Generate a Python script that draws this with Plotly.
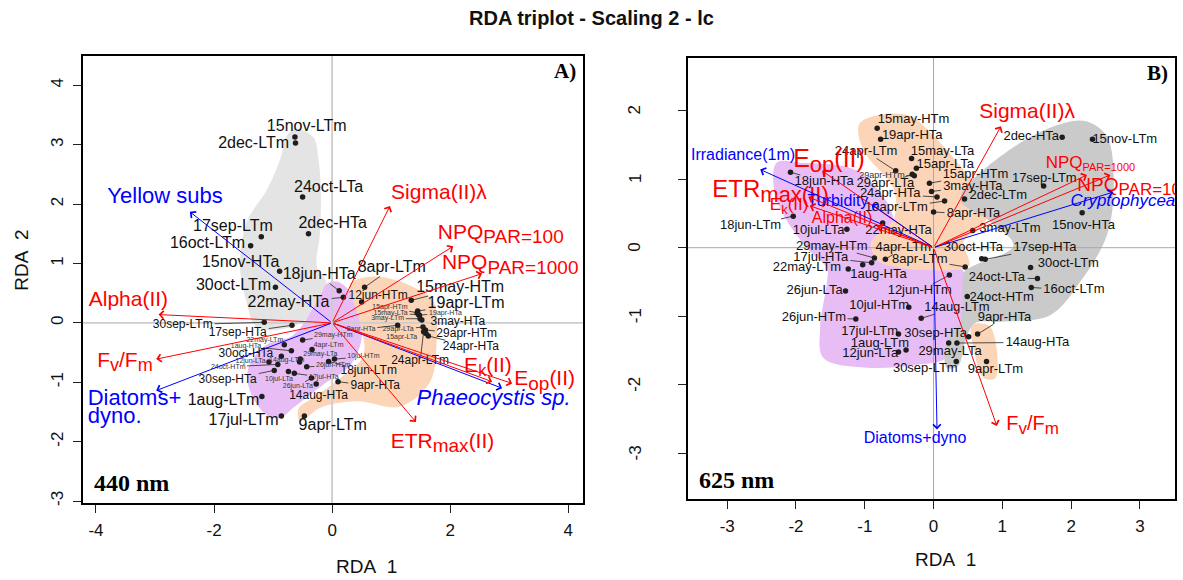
import math
import plotly.graph_objects as go

# ---------------------------------------------------------------
# Panel A (440 nm): site scores on RDA1 / RDA2 and label positions
# ---------------------------------------------------------------
a_site = ["15nov-LTm", "2dec-LTm", "24oct-LTa", "2dec-HTa", "17sep-LTm", "16oct-LTm", "15nov-HTa", "30oct-LTm",
          "18jun-HTa", "22may-HTa", "8apr-LTm", "12jun-HTm", "15may-HTm", "19apr-LTm", "19apr-HTa", "3may-HTa",
          "29apr-HTm", "24apr-HTa", "24apr-LTm", "15apr-HTm", "15may-LTa", "3may-LTm", "29apr-LTa", "15apr-LTa",
          "8apr-HTa", "30sep-LTm", "17sep-HTa", "1aug-LTm", "17jul-LTm", "9apr-LTm", "9apr-HTa", "14aug-HTa",
          "18jun-LTm", "30oct-HTa", "30sep-HTa", "22may-LTm", "1aug-HTa", "29may-HTm", "4apr-LTm", "29may-LTa",
          "26jun-HTm", "10jul-HTm", "24oct-HTm", "14aug-LTm", "10jul-LTa", "17jul-HTa", "12jun-LTa", "26jun-LTa"]
a_rda1 = [-0.63, -0.62, -0.50, -0.40, -1.20, -1.38, -0.89, -0.96,
          0.12, 0.19, 0.55, 0.50, 1.34, 1.45, 1.48, 1.52,
          1.58, 1.63, 1.55, 1.44, 1.46, 1.49, 1.54, 1.59,
          1.11, -1.15, -0.68, -1.19, -0.86, -0.47, 0.10, -0.27,
          -0.06, -0.86, -0.98, -0.81, -0.69, -0.50, -0.34, -0.54,
          -0.43, 0.04, -0.92, -0.55, -0.74, -0.64, -1.07, -0.35]
a_rda2 = [3.13, 3.03, 2.12, 1.50, 1.45, 1.30, 0.87, 0.60,
          0.54, 0.43, 0.60, 0.35, 0.38, 0.20, 0.13, 0.05,
          -0.12, -0.22, -0.15, 0.17, 0.14, 0.07, -0.07, -0.18,
          -0.04, 0.01, -0.04, -1.24, -1.57, -1.57, -0.99, -1.03,
          -0.65, -0.56, -0.80, -0.37, -0.47, -0.29, -0.45, -0.61,
          -0.74, -0.61, -0.70, -0.66, -0.82, -0.85, -0.66, -0.93]
a_lab1 = [-0.43, -1.33, -0.06, 0.01, -1.68, -2.11, -1.55, -1.67,
          -0.22, -0.74, 1.01, 0.78, 2.17, 2.27, 1.92, 2.13,
          2.28, 2.35, 1.49, 0.98, 0.99, 0.94, 1.12, 1.18,
          0.49, -2.53, -1.60, -1.84, -1.50, 0.01, 0.73, -0.23,
          0.62, -1.46, -1.77, -1.14, -1.46, 0.02, -0.06, -0.20,
          0.02, 0.53, -1.76, -0.77, -0.90, -0.14, -1.38, -0.58]
a_lab2 = [3.30, 3.01, 2.28, 1.67, 1.62, 1.33, 1.01, 0.62,
          0.80, 0.34, 0.92, 0.46, 0.59, 0.32, 0.17, 0.01,
          -0.18, -0.40, -0.65, 0.26, 0.16, 0.07, -0.11, -0.24,
          -0.11, -0.03, -0.17, -1.31, -1.65, -1.73, -1.07, -1.23,
          -0.81, -0.53, -0.96, -0.29, -0.39, -0.21, -0.37, -0.53,
          -0.72, -0.57, -0.74, -0.63, -0.95, -0.92, -0.64, -1.06]
# label size class per site (L large, M medium, S small)
a_labcls = "LLLLLLLLLLL" + "M" + "LL" + "S" + "MMMM" + "SSSSSS" + "MM" + "LLL" + "MMMMM" + "S" * 13

# biplot arrows (panel A)
a_var = ["Yellow subs", "Sigma(II)λ", "NPQ PAR=100", "NPQ PAR=1000", "Alpha(II)", "Fv/Fm",
         "Diatoms+ dyno.", "Phaeocystis sp.", "Ek(II)", "Eop(II)", "ETRmax(II)"]
a_var_kind = ["expl", "resp", "resp", "resp", "resp", "resp", "expl", "expl", "resp", "resp", "resp"]
a_arr1 = [-2.41, 0.98, 2.05, 2.54, -2.94, -2.98, -2.98, 2.88, 2.71, 3.05, 1.42]
a_arr2 = [1.87, 1.97, 1.29, 0.83, 0.14, -0.61, -1.14, -1.10, -0.99, -1.02, -1.67]
a_vlab1 = [-2.83, 1.81, 1.79, 1.86, -3.45, -3.51, -4.14, 1.43, 2.64, 3.60, 1.87]
a_vlab2 = [2.11, 2.17, 1.50, 0.99, 0.37, -0.65, -1.44, -1.29, -0.74, -0.96, -2.02]

# group hulls (panel A)
a_grey_x = [-0.63, -0.32, -0.23, -0.19, -0.21, -0.26, -0.09, -0.40, -0.77, -1.28, -1.45, -1.56, -1.45, -1.10, -0.88, -0.77]
a_grey_y = [3.27, 3.13, 2.75, 2.14, 1.47, 0.97, 0.63, 0.10, -0.09, -0.07, 0.35, 0.97, 1.69, 2.25, 2.75, 3.14]
a_purple_x = [0.11, 0.42, 0.50, 0.31, -0.15, -0.66, -0.88, -1.11, -1.39, -1.42, -1.11, -0.66, -0.20, -0.09]
a_purple_y = [0.69, 0.35, -0.26, -0.71, -1.04, -1.43, -1.60, -1.55, -1.15, -0.76, -0.37, -0.21, 0.46, 0.66]
a_orange_x = [0.31, 0.70, 1.32, 1.72, 1.77, 1.66, 1.15, 0.42, -0.20, -0.54, -0.57, -0.30, 0.14, 0.53, 0.47, 0.35]
a_orange_y = [0.66, 0.78, 0.63, 0.35, -0.32, -0.99, -1.41, -1.32, -1.43, -1.66, -1.45, -1.25, -0.93, -0.55, 0.02, 0.40]

# ---------------------------------------------------------------
# Panel B (625 nm)
# ---------------------------------------------------------------
b_site = ["15may-HTm", "19apr-HTa", "24apr-LTm", "15may-LTa", "15apr-LTa", "29apr-HTm", "29apr-LTa", "15apr-HTm",
          "3may-HTa", "24apr-HTa", "19apr-LTm", "8apr-HTa", "2dec-LTm", "3may-LTm", "2dec-HTa", "15nov-LTm",
          "17sep-LTm", "15nov-HTa", "30oct-HTa", "17sep-HTa", "30oct-LTm", "24oct-LTa", "16oct-LTm", "24oct-HTm",
          "9apr-HTa", "14aug-HTa", "29may-LTa", "30sep-HTa", "9apr-LTm", "30sep-LTm", "12jun-LTa", "1aug-LTm",
          "17jul-LTm", "14aug-LTm", "10jul-HTm", "26jun-HTm", "26jun-LTa", "12jun-HTm", "8apr-LTm", "4apr-LTm",
          "29may-HTm", "17jul-HTa", "1aug-HTa", "22may-LTm", "10jul-LTa", "22may-HTa", "18jun-LTm", "18jun-HTa"]
b_rda1 = [-0.82, -0.77, -0.55, -0.32, -0.25, -0.28, -0.31, -0.06,
          -0.03, 0.05, 0.16, 0.00, 0.45, 0.57, 1.87, 2.31,
          1.60, 2.16, 0.70, 0.75, 1.41, 1.51, 1.42, 0.49,
          0.64, 0.34, 0.22, 0.51, 0.77, 0.33, -0.51, -0.40,
          -0.51, -0.18, -0.36, -1.13, -1.28, 0.23, 0.46, -0.70,
          -0.86, -0.90, -1.03, -1.24, -1.26, -0.74, -2.04, -2.08]
b_rda2 = [1.74, 1.58, 1.12, 1.30, 1.16, 1.05, 1.07, 0.94,
          0.82, 0.74, 0.68, 0.52, 0.71, 0.25, 1.61, 1.58,
          0.90, 0.51, -0.16, -0.17, -0.29, -0.45, -0.58, -0.71,
          -1.26, -1.39, -1.39, -1.30, -1.66, -1.66, -1.52, -1.49,
          -1.26, -1.03, -0.87, -1.04, -0.63, -0.40, -0.28, -0.17,
          -0.15, -0.22, -0.25, -0.31, 0.27, 0.36, 0.46, 1.10]
b_lab1 = [-0.29, -0.31, -0.98, 0.13, 0.17, -0.75, -0.70, 0.61,
          0.57, -0.63, -0.54, 0.58, 0.94, 1.11, 1.42, 2.78,
          1.61, 2.18, 0.58, 1.62, 1.96, 0.92, 2.04, 0.99,
          1.03, 1.51, 0.24, 0.03, 0.90, -0.12, -0.92, -0.78,
          -0.93, 0.34, -0.79, -1.74, -1.73, -0.20, -0.20, -0.44,
          -1.48, -1.64, -0.80, -1.84, -1.67, -0.51, -2.66, -1.59]
b_lab2 = [1.86, 1.63, 1.40, 1.40, 1.21, 1.05, 0.93, 1.06,
          0.89, 0.78, 0.58, 0.49, 0.75, 0.28, 1.61, 1.58,
          1.01, 0.32, 0.00, 0.00, -0.23, -0.44, -0.62, -0.73,
          -1.02, -1.38, -1.52, -1.26, -1.78, -1.76, -1.54, -1.40,
          -1.23, -0.87, -0.84, -1.02, -0.63, -0.63, -0.17, 0.00,
          0.02, -0.14, -0.40, -0.30, 0.24, 0.24, 0.32, 0.96]
b_labcls = "MMMMM" + "S" + "M" * 42

b_var = ["Sigma(II)λ", "NPQ PAR=1000", "NPQ PAR=100", "Cryptophyceae", "Irradiance(1m)", "Eop(II)",
         "ETRmax(II)", "Ek(II)", "Turbidity", "Alpha(II)", "Diatoms+dyno", "Fv/Fm"]
b_var_kind = ["resp", "resp", "resp", "expl", "expl", "resp", "resp", "resp", "expl", "resp", "expl", "resp"]
b_arr1 = [0.98, 2.23, 2.57, 2.61, -2.52, -1.62, -1.82, -1.80, -0.90, -0.82, 0.05, 0.92]
b_arr2 = [1.77, 1.06, 1.06, 0.81, 1.14, 1.12, 0.74, 0.61, 0.63, 0.32, -2.65, -2.60]
b_vlab1 = [1.36, 1.63, 2.09, 1.99, -2.77, -1.52, -2.37, -2.10, -1.39, -1.33, -0.27, 1.44]
b_vlab2 = [1.97, 1.23, 0.90, 0.67, 1.33, 1.27, 0.83, 0.61, 0.67, 0.42, -2.79, -2.58]

b_purple_x = [-2.28, -1.94, -1.07, -0.58, -0.90, -0.77, 0.39, 0.48, 0.48, 0.20, -0.29, -0.97, -1.60, -1.65, -1.55, -1.55, -1.84, -2.23, -2.33]
b_purple_y = [1.24, 1.24, 1.10, 0.37, 0.08, -0.21, -0.30, -0.50, -1.08, -1.60, -1.71, -1.75, -1.61, -1.17, -0.50, -0.30, -0.01, 0.57, 0.95]
b_orange_x = [-1.07, -0.77, -0.34, 0.00, 0.39, 0.80, 0.70, 0.44, 0.52, 0.34, -0.77, -0.90, -0.58, -0.58, -0.97, -1.09]
b_orange_y = [1.82, 1.94, 1.92, 1.63, 1.19, 0.60, 0.30, 0.10, -0.26, -0.32, -0.21, 0.08, 0.42, 0.86, 1.34, 1.63]
b_grey_x = [0.39, 1.11, 1.84, 2.23, 2.52, 2.62, 2.52, 2.13, 1.70, 0.97, 0.60, 0.45, 0.36, 0.19, 0.19, 0.40, 0.42, 0.45, 1.16, 0.80]
b_grey_y = [0.71, 1.43, 1.80, 1.84, 1.62, 0.95, 0.18, -0.50, -0.98, -1.08, -1.10, -1.40, -1.72, -1.75, -1.37, -1.05, -0.55, -0.35, 0.03, 0.40]
b_orange2_x = [0.56, 0.82, 0.90, 0.73, 0.58]
b_orange2_y = [-1.13, -1.15, -1.90, -1.90, -1.46]

a_ticks_x = [-4, -2, 0, 2, 4]
a_ticks_y = [-3, -2, -1, 0, 1, 2, 3, 4]
b_ticks_x = [-3, -2, -1, 0, 1, 2, 3]
b_ticks_y = [-3, -2, -1, 0, 1, 2]

# ---------------------------------------------------------------
FONT = "Liberation Sans, Arial, sans-serif"
SERIF = "Liberation Serif, Times New Roman, serif"
W, H = 1183, 580
RED, BLUE = "#ff0000", "#0000ff"
GREY_A, GREY_B, PURPLE, ORANGE = "#e4e4e4", "#cacaca", "#e8bdf6", "#fcd5b8"
TICK_FONT = dict(family=FONT, size=17, color="#111")

PANELS = {
    "A": dict(xpx=(83, 583), ypx=(56, 506), xr=(-4.22, 4.25), yr=(-3.04, 4.50), xa="x", ya="y"),
    "B": dict(xpx=(688, 1175), ypx=(58, 502), xr=(-3.57, 3.51), yr=(-3.67, 2.77), xa="x2", ya="y2"),
}
LAB_SIZE = {"A": {"L": 16, "M": 12, "S": 7}, "B": {"M": 13, "S": 9}}
LAB_COLOR = {"L": "#111111", "M": "#111111", "S": "#333333"}

CHAR_W = {c: 0.556 for c in "0123456789abdeghnopqu"}
CHAR_W.update({"-": 0.333, "c": 0.5, "s": 0.5, "v": 0.5, "y": 0.5, "k": 0.5, "i": 0.222, "j": 0.222,
               "l": 0.222, "m": 0.833, "r": 0.333, "t": 0.278, "f": 0.278, "H": 0.722, "L": 0.556, "T": 0.611})


def scale(key):
    p = PANELS[key]
    sx = (p["xpx"][1] - p["xpx"][0]) / (p["xr"][1] - p["xr"][0])
    sy = (p["ypx"][1] - p["ypx"][0]) / (p["yr"][1] - p["yr"][0])
    return sx, sy


def text_width(s, size):
    return size * sum(CHAR_W.get(c, 0.6) for c in s)


def leader_segments(key, xs, ys, lxs, lys, texts, sizes):
    """Connector lines from each point to the edge of its displaced label."""
    sx, sy = scale(key)
    ox, oy = [], []
    for x, y, lx, ly, t, s in zip(xs, ys, lxs, lys, texts, sizes):
        hw = text_width(t, s) / 2 + 1.5
        hh = s * 0.45 + 1
        dx, dy = (x - lx) * sx, (y - ly) * sy
        if abs(dx) <= hw and abs(dy) <= hh:
            continue
        k = min(hw / abs(dx) if dx else 1e9, hh / abs(dy) if dy else 1e9)
        ex, ey = dx * k, dy * k
        if math.hypot(dx - ex, dy - ey) < 7:
            continue
        ox += [lx + ex / sx, x, None]
        oy += [ly + ey / sy, y, None]
    return ox, oy


def sub(txt, size):
    return f'<sub><span style="font-size:{size}px">{txt}</span></sub>'


def var_markup(name, size, key):
    """Return the label as a list of text lines with sub/italic markup."""
    small = size * (0.62 if key == "B" else 0.9)
    if name.startswith("NPQ"):
        s = size * 0.9 if name.endswith("100") else small
        return ["NPQ" + sub(name.split(" ")[1], round(s))]
    if name == "Fv/Fm":
        return ["F" + sub("v", round(size * 0.85)) + "/F" + sub("m", round(size * 0.85))]
    if name == "Ek(II)":
        return ["E" + sub("k", round(size * 0.75)) + "(II)"]
    if name == "Eop(II)":
        return ["E" + sub("op", round(size * 0.9)) + "(II)"]
    if name == "ETRmax(II)":
        if key == "B":
            return ["ETR" + sub("max(II)", round(size * 0.9))]
        return ["ETR" + sub("max", round(size * 0.9)) + "(II)"]
    if name == "Diatoms+ dyno.":
        return ["Diatoms+", "dyno."]
    if name in ("Phaeocystis sp.", "Cryptophyceae"):
        return ["<i>" + name + "</i>"]
    return [name]


VAR_SIZE = {
    "A": {"Yellow subs": 22, "Phaeocystis sp.": 22, "Diatoms+ dyno.": 22},
    "B": {"Sigma(II)λ": 21, "NPQ PAR=1000": 17, "NPQ PAR=100": 19, "Cryptophyceae": 17,
          "Irradiance(1m)": 16, "Eop(II)": 25, "ETRmax(II)": 24, "Ek(II)": 17, "Turbidity": 16,
          "Alpha(II)": 16, "Diatoms+dyno": 16, "Fv/Fm": 20},
}
LEFT_ANCHORED = {"NPQ PAR=100", "NPQ PAR=1000", "Diatoms+ dyno.", "Phaeocystis sp.", "Cryptophyceae"}
LINE_GAP = 0.82  # line spacing (in em) for stacked labels

fig = go.Figure()
annotations = []


def hull(key, xs, ys, color):
    p = PANELS[key]
    fig.add_trace(go.Scatter(x=xs + xs[:1], y=ys + ys[:1], mode="lines", fill="toself", fillcolor=color,
                             line=dict(width=0, color=color, shape="spline", smoothing=1.0),
                             xaxis=p["xa"], yaxis=p["ya"], hoverinfo="skip", showlegend=False))


def panel(key, sites, r1, r2, l1, l2, cls, var, kind, v1, v2, vl1, vl2, zero_color, zero_w):
    p = PANELS[key]
    xa, ya = p["xa"], p["ya"]
    sx, sy = scale(key)
    # zero reference lines
    fig.add_trace(go.Scatter(x=list(p["xr"]), y=[0, 0], mode="lines", line=dict(color=zero_color, width=zero_w),
                             xaxis=xa, yaxis=ya, hoverinfo="skip", showlegend=False))
    fig.add_trace(go.Scatter(x=[0, 0], y=list(p["yr"]), mode="lines", line=dict(color=zero_color, width=zero_w),
                             xaxis=xa, yaxis=ya, hoverinfo="skip", showlegend=False))
    sizes = [LAB_SIZE[key][c] for c in cls]
    lx, ly = leader_segments(key, r1, r2, l1, l2, sites, sizes)
    fig.add_trace(go.Scatter(x=lx, y=ly, mode="lines", line=dict(color="#3a3a3a", width=0.9),
                             xaxis=xa, yaxis=ya, hoverinfo="skip", showlegend=False))
    fig.add_trace(go.Scatter(x=r1, y=r2, mode="markers", marker=dict(size=5.5, color="#1e1e1e"),
                             xaxis=xa, yaxis=ya, hoverinfo="skip", showlegend=False))
    fig.add_trace(go.Scatter(x=l1, y=l2, mode="text", text=sites,
                             textfont=dict(family=FONT, size=sizes, color=[LAB_COLOR[c] for c in cls]),
                             xaxis=xa, yaxis=ya, hoverinfo="skip", showlegend=False))
    # biplot arrows
    for name, k, x, y in zip(var, kind, v1, v2):
        annotations.append(dict(x=x, y=y, ax=0, ay=0, xref=xa, yref=ya, axref=xa, ayref=ya, text="",
                                showarrow=True, arrowhead=4, arrowsize=1.5, arrowwidth=1, standoff=0,
                                arrowcolor=RED if k == "resp" else BLUE))
    # arrow labels (stacked lines placed individually for tight spacing)
    tx, ty, tt, ts, tc, tp = [], [], [], [], [], []
    for name, k, x, y in zip(var, kind, vl1, vl2):
        size = VAR_SIZE[key].get(name, 21)
        lines = var_markup(name, size, key)
        n = len(lines)
        for i, line in enumerate(lines):
            off = ((n - 1) / 2 - i) * LINE_GAP * size / sy
            tx.append(x)
            ty.append(y + off)
            tt.append(line)
            ts.append(size)
            tc.append(RED if k == "resp" else BLUE)
            tp.append("middle right" if name in LEFT_ANCHORED else "middle center")
    fig.add_trace(go.Scatter(x=tx, y=ty, mode="text", text=tt, textposition=tp,
                             textfont=dict(family=FONT, size=ts, color=tc),
                             xaxis=xa, yaxis=ya, hoverinfo="skip", showlegend=False))


hull("A", a_grey_x, a_grey_y, GREY_A)
hull("A", a_purple_x, a_purple_y, PURPLE)
hull("A", a_orange_x, a_orange_y, ORANGE)
panel("A", a_site, a_rda1, a_rda2, a_lab1, a_lab2, a_labcls, a_var, a_var_kind, a_arr1, a_arr2,
      a_vlab1, a_vlab2, "#cdcdcd", 1.8)

hull("B", b_purple_x, b_purple_y, PURPLE)
hull("B", b_orange_x, b_orange_y, ORANGE)
hull("B", b_grey_x, b_grey_y, GREY_B)
hull("B", b_orange2_x, b_orange2_y, ORANGE)
panel("B", b_site, b_rda1, b_rda2, b_lab1, b_lab2, b_labcls, b_var, b_var_kind, b_arr1, b_arr2,
      b_vlab1, b_vlab2, "#a8a8a8", 1.0)


def axis(key, which, ticks, show_labels=True):
    p = PANELS[key]
    if which == "x":
        dom = [p["xpx"][0] / W, p["xpx"][1] / W]
        rng = list(p["xr"])
        anchor = p["ya"]
        extra = dict(ticklabelstandoff=2)
    else:
        dom = [(H - p["ypx"][1]) / H, (H - p["ypx"][0]) / H]
        rng = list(p["yr"])
        anchor = p["xa"]
        extra = dict(tickangle=-90, ticklabelstandoff=3)
    return dict(domain=dom, range=rng, anchor=anchor, tickmode="array", tickvals=ticks,
                ticktext=[str(t) for t in ticks], showticklabels=show_labels, showgrid=False, zeroline=False,
                showline=True, mirror=True, linecolor="black", linewidth=2,
                ticks="outside", ticklen=8, tickwidth=1, tickcolor="#222",
                tickfont=TICK_FONT, fixedrange=True, **extra)


# panel B's vertical tick labels sit further out from the frame
for t in b_ticks_y:
    annotations.append(dict(x=635 / W, y=t, xref="paper", yref="y2", showarrow=False,
                            xanchor="center", yanchor="middle", textangle=-90,
                            text=str(t), font=TICK_FONT))


def px_to_paper(x, y):
    return x / W, (H - y) / H


def paper_text(cx, cy, text, size, family=FONT, angle=0):
    px_, py_ = px_to_paper(cx, cy)
    annotations.append(dict(x=px_, y=py_, xref="paper", yref="paper", showarrow=False,
                            xanchor="center", yanchor="middle", textangle=angle,
                            text=text, font=dict(family=family, size=size, color="#111")))


# figure and axis titles
paper_text(591, 18, "<b>RDA triplot - Scaling 2 - lc</b>", 20)
paper_text(366, 569, "RDA\u00a0 1", 19)
paper_text(945, 562, "RDA\u00a0 1", 19)
paper_text(22, 262, "RDA\u00a0 2", 19, angle=-90)

# panel tags
for xa, ya, tag, wl in [("x", "y", "A)", "440 nm"), ("x2", "y2", "B)", "625 nm")]:
    annotations.append(dict(x=0.99, y=0.965, xref=f"{xa} domain", yref=f"{ya} domain", showarrow=False,
                            xanchor="right", yanchor="middle", text=f"<b>{tag}</b>",
                            font=dict(family=SERIF, size=21, color="black")))
    annotations.append(dict(x=0.018, y=0.045, xref=f"{xa} domain", yref=f"{ya} domain", showarrow=False,
                            xanchor="left", yanchor="middle", text=f"<b>{wl}</b>",
                            font=dict(family=SERIF, size=24, color="black")))

fig.update_layout(
    width=W, height=H, margin=dict(l=0, r=0, t=0, b=0),
    paper_bgcolor="white", plot_bgcolor="white", showlegend=False,
    xaxis=axis("A", "x", a_ticks_x), yaxis=axis("A", "y", a_ticks_y),
    xaxis2=axis("B", "x", b_ticks_x), yaxis2=axis("B", "y", b_ticks_y, show_labels=False),
    annotations=annotations,
)

fig.write_html("out.html")
